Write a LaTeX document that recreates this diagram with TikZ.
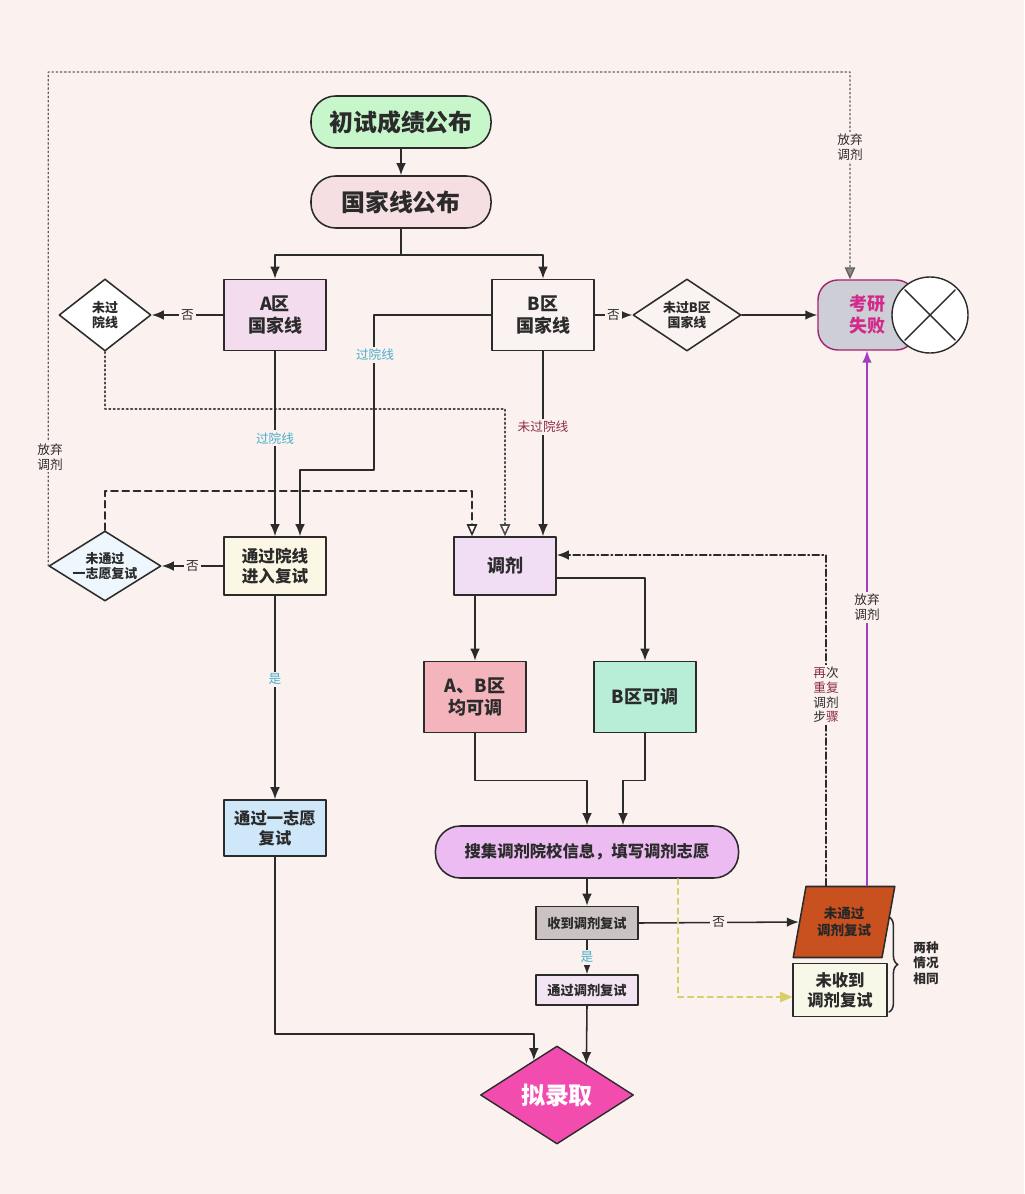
\documentclass[tikz,border=0pt]{standalone}
\usepackage{fontspec}
\setmainfont{Noto Sans CJK SC}
\usetikzlibrary{arrows.meta,calc,shapes.geometric,decorations.pathreplacing}
\definecolor{Bg}{HTML}{FBF1EF}
\definecolor{Ink}{HTML}{2B2B2B}
\definecolor{StartBg}{HTML}{C7F6CB}
\definecolor{NatBg}{HTML}{F6DFE2}
\definecolor{ZoneABg}{HTML}{F3DCEE}
\definecolor{ZoneBBg}{HTML}{FAF3F1}
\definecolor{PassBg}{HTML}{FCF7E4}
\definecolor{AdjBg}{HTML}{F1DDF4}
\definecolor{ABBg}{HTML}{F4B4BC}
\definecolor{BOnlyBg}{HTML}{B8EED8}
\definecolor{CollectBg}{HTML}{ECBBF2}
\definecolor{RecvBg}{HTML}{CBC3C3}
\definecolor{PassAdjBg}{HTML}{F3E4F3}
\definecolor{FirstBg}{HTML}{CFE8F9}
\definecolor{FailAdjBg}{HTML}{C9511F}
\definecolor{NoRecvBg}{HTML}{F8F8E8}
\definecolor{AdmitBg}{HTML}{F24DAE}
\definecolor{FailGray}{HTML}{CDCED6}
\definecolor{FailMag}{HTML}{D12A8A}
\definecolor{Purple}{HTML}{A23FC0}
\definecolor{Cyan}{HTML}{4AAFCB}
\definecolor{Maroon}{HTML}{8A2E44}
\definecolor{Yellow}{HTML}{D6CF6A}
\tikzset{
  start box/.style={draw=Ink,line width=1.1pt,rounded corners=0.62cm,minimum width=4.5cm,minimum height=1.3cm,text=Ink,font=\bfseries\fontsize{17}{17}\selectfont},
  stage box/.style={draw=Ink,line width=1.1pt,minimum width=2.55cm,minimum height=1.775cm,align=center,inner sep=1pt,text=Ink,font=\bfseries\fontsize{12.8}{16}\selectfont},
  small box/.style={stage box,font=\bfseries\fontsize{11.6}{14.5}\selectfont},
  tiny box/.style={stage box,font=\bfseries\fontsize{9.4}{11}\selectfont},
  choice/.style={diamond,draw=Ink,line width=1.1pt,fill=white,aspect=1.6,inner sep=0pt,align=center,text=Ink,font=\bfseries\fontsize{9.2}{11}\selectfont},
  flow/.style={draw=Ink,line width=1.1pt,-{Latex[length=3mm,width=2.4mm]}},
  dot flow/.style={draw=Ink!85,line width=1.1pt,dotted,-{Triangle[length=3mm,width=2.6mm,fill=white]}},
  dash flow/.style={draw=Ink,line width=1.1pt,dash pattern=on 5pt off 3pt,-{Triangle[length=3mm,width=2.6mm,fill=white]}},
  quit flow/.style={draw=Ink!75,line width=1pt,dotted,-{Triangle[length=3mm,width=2.6mm,fill=Ink!55]}},
  again flow/.style={draw=Ink,line width=1.1pt,dash pattern=on 5pt off 2pt on 1pt off 2pt,-{Latex[length=3mm,width=2.4mm]}},
  purple flow/.style={draw=Purple,line width=1.1pt,-{Latex[length=3mm,width=2.4mm]}},
  yellow flow/.style={draw=Yellow,line width=0.9pt,dash pattern=on 4pt off 3pt,-{Triangle[length=3mm,width=2.6mm,fill=Yellow]}},
  edge label/.style={fill=Bg,inner sep=1.5pt,text=Ink,align=center,font=\fontsize{9}{10.5}\selectfont}
}

\begin{document}
\begin{tikzpicture}[x=0.025cm,y=-0.025cm,>=Latex,line cap=round,line join=round]
  \fill[Bg] (0,0) rectangle (1024,1194);
  \useasboundingbox (0,0) rectangle (1024,1194);

  % top
  \node[start box,fill=StartBg] (start) at (401,122) {初试成绩公布};
  \node[start box,fill=NatBg] (nat) at (401,202) {国家线公布};

  % zone lines
  \node[stage box,fill=ZoneABg] (zoneA) at (275,315) {A区\\国家线};
  \node[stage box,fill=ZoneBBg] (zoneB) at (543,315) {B区\\国家线};
  \node[choice,minimum width=2.3cm,minimum height=1.8cm] (noA) at (105,315) {未过\\院线};
  \node[choice,minimum width=2.7cm,minimum height=1.8cm,fill=ZoneBBg] (noB) at (687,315) {未过B区\\国家线};

  % failure
  \node[draw=FailMag!80!black,line width=1pt,fill=FailGray,rounded corners=0.5cm,minimum width=2.45cm,minimum height=1.75cm,align=center,text=FailMag,font=\bfseries\fontsize{12.8}{15.5}\selectfont] (failBody) at (867,315) {考研\\失败};
  \node[circle,draw=Ink,line width=1pt,fill=white,minimum size=1.9cm,inner sep=0pt] (failMark) at (930,315) {};
  \draw[Ink,line width=1pt,shorten >=0.08cm,shorten <=0.08cm] (failMark.north east) -- (failMark.south west);
  \draw[Ink,line width=1pt,shorten >=0.08cm,shorten <=0.08cm] (failMark.north west) -- (failMark.south east);

  % retest
  \node[stage box,minimum height=1.45cm,fill=PassBg,font=\bfseries\fontsize{11.8}{14.5}\selectfont] (pass) at (275,566) {通过院线\\进入复试};
  \node[choice,minimum width=2.8cm,minimum height=1.75cm,fill=FirstBg!35] (noYi) at (105,566) {未通过\\一志愿复试};
  \node[stage box,minimum height=1.45cm,fill=AdjBg] (adjust) at (505,566) {调剂};
  \node[small box,minimum height=1.4cm,fill=FirstBg] (first) at (275,828) {通过一志愿\\复试};

  % adjustment
  \node[stage box,fill=ABBg] (ab) at (475,697) {A、B区\\均可调};
  \node[stage box,fill=BOnlyBg] (bonly) at (645,697) {B区可调};
  \node[draw=Ink,line width=1.1pt,fill=CollectBg,rounded corners=0.62cm,minimum width=7.575cm,minimum height=1.3cm,text=Ink,font=\bfseries\fontsize{11.6}{14}\selectfont] (collect) at (587,852) {搜集调剂院校信息，填写调剂志愿};
  \node[tiny box,minimum height=0.825cm,fill=RecvBg] (recv) at (587,923) {收到调剂复试};
  \node[tiny box,minimum height=0.75cm,fill=PassAdjBg,font=\fontsize{9.4}{11}\selectfont\bfseries] (passAdj) at (587,990) {通过调剂复试};
  \node[trapezium,trapezium left angle=73,trapezium right angle=107,trapezium stretches=true,draw=Ink,line width=1.1pt,fill=FailAdjBg,minimum width=2.55cm,minimum height=1.775cm,align=center,inner sep=0pt,text=Ink!90!black,font=\bfseries\fontsize{9.6}{12}\selectfont] (failAdj) at (844,922) {未通过\\调剂复试};
  \node[small box,minimum width=2.35cm,minimum height=1.325cm,fill=NoRecvBg] (noRecv) at (840,990) {未收到\\调剂复试};
  \node[diamond,draw=Ink,line width=1pt,fill=AdmitBg,minimum width=3.825cm,minimum height=2.45cm,inner sep=0pt,text=white,font=\bfseries\fontsize{17}{17}\selectfont] (admit) at (557,1095) {拟录取};

  % connectors
  \draw[flow] (start.south) -- (nat.north);
  \draw[flow] (nat.south) -- ++(0,26) -| (zoneA.north);
  \draw[flow] (nat.south) -- ++(0,26) -| (zoneB.north);
  \draw[flow] (zoneA.west) -- node[edge label] (lblNoA) {否} (noA.east);
  \draw[flow] (zoneB.east) -- node[edge label] (lblNoB) {否} (noB.west);
  \draw[flow] (noB.east) -- (failBody.west);
  \draw[dot flow] (noA.south) -- ++(0,57) -| (adjust.north);
  \draw[flow] (zoneB.west) -- ++(-117,0) -- ++(0,155) -| ([xshift=0.625cm]pass.north);
  \draw[flow] (zoneA.south) -- node[edge label,pos=0.47,text=Cyan] (lblPassA) {过院线} (pass.north);
  \draw[flow] (zoneB.south) -- node[edge label,pos=0.41,text=Maroon] (lblNoPassB) {未过院线} (zoneB.south |- adjust.north);
  \draw[dash flow] (noYi.north) -- ++(0,-39) -| ([xshift=-0.825cm]adjust.north);
  \draw[flow] (pass.west) -- node[edge label] (lblNoYi) {否} (noYi.east);
  \draw[flow] (pass.south) -- node[edge label,pos=0.41,text=Cyan] (lblYesYi) {是} (first.north);
  \coordinate (topCorner) at (850,72);
  \draw[quit flow] (noYi.west) |- (topCorner) -- ([xshift=-0.425cm]failBody.north);
  \draw[flow] (ab.north |- adjust.south) -- (ab.north);
  \draw[flow] ([yshift=-0.3cm]adjust.east) -| (bonly.north);
  \draw[flow] (ab.south) -- ++(0,47) -| (collect.north);
  \draw[flow] (bonly.south) -- ++(0,47) -| ([xshift=0.9cm]collect.north);
  \draw[flow] (collect.south) -- (recv.north);
  \draw[flow] (recv.south) -- node[edge label,text=Cyan] (lblYesAdj) {是} (passAdj.north);
  \draw[flow] (recv.east) -- node[edge label] (lblNoAdj) {否} (failAdj.west);
  \draw[flow] (passAdj.south) -- ($(admit.north)!0.38!(admit.east)$);
  \draw[flow] (first.south) -- ++(0,177) -| ($(admit.north)!0.3!(admit.west)$);
  \draw[purple flow] (failAdj.north -| failBody.south) -- node[edge label,pos=0.52] (lblQuitR) {放弃\\调剂} (failBody.south);
  \draw[again flow] ([xshift=-0.45cm]failAdj.north) |- ([yshift=0.275cm]adjust.east);
  \draw[yellow flow] ([xshift=2.275cm]collect.south) |- ([yshift=-0.175cm]noRecv.west);
  \draw[Ink,line width=1.1pt,decorate,decoration={brace,amplitude=0.22cm}] (889,917) -- (889,1012);

  % labels
  \node[edge label,text=Cyan] (lblPassB) at (375,355) {过院线};
  \node[edge label] (lblQuitL) at (50,457) {放弃\\调剂};
  \node[edge label] (lblQuitT) at (850,147) {放弃\\调剂};
  \node[edge label] (lblAgain) at (826,695) {{\color{Maroon}再}次\\{\color{Maroon}重复}\\调剂\\步{\color{Maroon}骤}};
  \node[text=Ink,align=center,font=\bfseries\fontsize{9}{11}\selectfont] (lblSame) at (926,963) {两种\\情况\\相同};
\end{tikzpicture}
\end{document}
